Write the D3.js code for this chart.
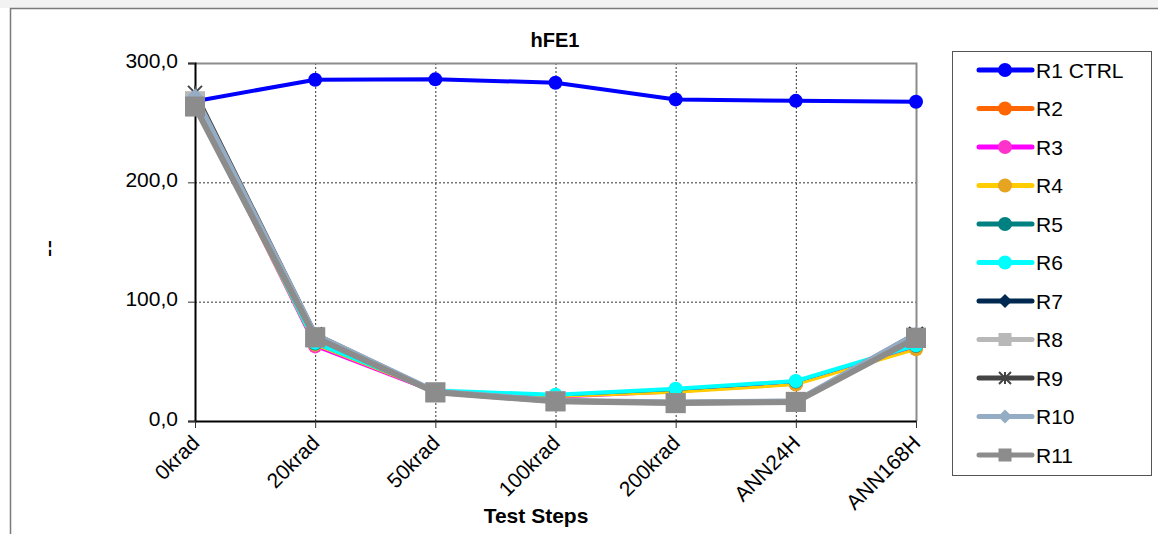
<!DOCTYPE html>
<html>
<head>
<meta charset="utf-8">
<script src="https://cdn.jsdelivr.net/npm/d3@7"></script>
<style>
  html, body { margin: 0; padding: 0; background: #fff; }
  svg { display: block; font-family: "Liberation Sans", Arial, sans-serif; }
</style>
</head>
<body>
<svg id="chart" width="1158" height="534"></svg>
<script>
// Test steps along the x axis
const categories = ["0krad", "20krad", "50krad", "100krad", "200krad", "ANN24H", "ANN168H"];
const yTicks = [0, 100, 200, 300];

// hFE1 per device at each test step
const seriesNames = ["R1 CTRL", "R2", "R3", "R4", "R5", "R6", "R7", "R8", "R9", "R10", "R11"];
const R1  = [268.0, 286.0, 286.3, 283.5, 269.5, 268.3, 267.5];
const R2  = [266.0, 64.5, 24.5, 20.5, 25.0, 31.5, 61.5];
const R3  = [266.5, 62.5, 24.0, 20.0, 24.5, 31.0, 62.0];
const R4  = [265.0, 64.0, 24.5, 20.5, 24.0, 30.5, 60.0];
const R5  = [267.0, 65.0, 25.0, 21.5, 26.5, 33.0, 63.0];
const R6  = [267.5, 65.5, 25.5, 22.0, 27.0, 33.5, 63.5];
const R7  = [270.0, 71.0, 24.0, 16.5, 15.0, 16.0, 71.0];
const R8  = [268.0, 70.5, 24.0, 16.5, 15.0, 16.0, 70.0];
const R9  = [275.0, 72.5, 24.5, 17.0, 15.5, 16.5, 73.0];
const R10 = [272.0, 72.0, 24.5, 17.0, 15.5, 16.5, 72.5];
const R11 = [263.5, 70.0, 24.0, 16.5, 15.0, 16.0, 69.5];
const seriesValues = [R1, R2, R3, R4, R5, R6, R7, R8, R9, R10, R11];

const lineColors   = ["#0000ff", "#ff6600", "#ff00ff", "#ffcc00", "#008080", "#00ffff", "#002850", "#b8b8b8", "#444444", "#94acc4", "#8c8c8c"];
const markerColors = ["#0000ff", "#ff6600", "#ff33cc", "#e6a420", "#008080", "#00ffff", "#002850", "#b8b8b8", "#444444", "#94acc4", "#8c8c8c"];
const markerShapes = ["circle", "circle", "circle", "circle", "circle", "circle", "diamond", "square", "star", "diamond", "square"];
const lineWidths   = [4, 3, 3, 3, 3, 4, 4, 5, 5, 6, 6];

const svg = d3.select("#chart");
const W = 1158, H = 534;
const FONT = "Liberation Sans, Arial, sans-serif";

// outer frame
svg.append("rect").attr("x", 0).attr("y", 0).attr("width", W).attr("height", 8).attr("fill", "#f2f2f2");
svg.append("rect").attr("x", 10.5).attr("y", 8.5).attr("width", W).attr("height", H)
  .attr("fill", "#fff").attr("stroke", "#7a7a7a").attr("stroke-width", 1.5);

const plot = { left: 195, right: 916, top: 63, bottom: 421 };

const x = d3.scalePoint().domain(categories).range([plot.left, plot.right]);
const y = d3.scaleLinear().domain([0, 300]).range([plot.bottom, plot.top]);

// grid lines
const grid = svg.append("g");
grid.selectAll("line.h").data(yTicks.filter(v => v > 0 && v < 300)).join("line")
  .attr("x1", plot.left).attr("x2", plot.right)
  .attr("y1", d => y(d) + 0.5).attr("y2", d => y(d) + 0.5)
  .attr("stroke", "#333").attr("stroke-width", 1).attr("stroke-dasharray", "2,2");
grid.selectAll("line.v").data(categories.slice(1, -1)).join("line")
  .attr("x1", d => x(d) + 0.5).attr("x2", d => x(d) + 0.5)
  .attr("y1", plot.top).attr("y2", plot.bottom)
  .attr("stroke", "#333").attr("stroke-width", 1).attr("stroke-dasharray", "2,2");

// plot area top/right border
svg.append("path")
  .attr("d", `M${plot.left},${plot.top + 0.5}H${plot.right + 0.5}V${plot.bottom}`)
  .attr("fill", "none").attr("stroke", "#8c8c8c").attr("stroke-width", 2);

// y axis
const yAxis = svg.append("g").attr("transform", `translate(${plot.left},0)`)
  .call(d3.axisLeft(y).tickValues(yTicks).tickSize(7).tickPadding(10)
    .tickFormat(d => d3.format(".1f")(d).replace(".", ",")));
yAxis.select(".domain").attr("stroke", "#000").attr("stroke-width", 2);
yAxis.selectAll(".tick line").attr("stroke", "#333");
yAxis.selectAll(".tick text").attr("font-size", 21).attr("fill", "#000")
  .attr("font-family", FONT).attr("dy", "0.2em");

// x axis
const xAxis = svg.append("g").attr("transform", `translate(0,${plot.bottom})`)
  .call(d3.axisBottom(x).tickSize(7).tickSizeOuter(0));
xAxis.select(".domain").attr("stroke", "#000").attr("stroke-width", 2);
xAxis.selectAll(".tick line").attr("stroke", "#333");
xAxis.selectAll(".tick text")
  .attr("font-size", 21).attr("fill", "#000")
  .attr("font-family", FONT)
  .attr("text-anchor", "end")
  .attr("transform", "translate(0,18) rotate(-45)")
  .attr("dx", 0).attr("dy", "0.35em").attr("y", 0).attr("x", 0);

// titles
svg.append("text").attr("x", 555).attr("y", 47).attr("text-anchor", "middle")
  .attr("font-size", 20).attr("font-weight", "bold").text("hFE1");
svg.append("text").attr("x", 536).attr("y", 523).attr("text-anchor", "middle")
  .attr("font-size", 21).attr("font-weight", "bold").text("Test Steps");
svg.append("text").attr("x", 50).attr("y", 253).attr("text-anchor", "middle")
  .attr("font-size", 16).attr("font-weight", "bold").text("¦");

// marker drawing
function drawMarker(g, shape, color, size) {
  if (shape === "circle") {
    g.append("circle").attr("r", size).attr("fill", color);
  } else if (shape === "square") {
    g.append("rect").attr("x", -size).attr("y", -size).attr("width", size * 2).attr("height", size * 2).attr("fill", color);
  } else if (shape === "diamond") {
    g.append("path").attr("d", `M0,${-size}L${size},0L0,${size}L${-size},0Z`).attr("fill", color);
  } else if (shape === "star") {
    const s = size;
    g.append("path").attr("d", `M${-s},${-s}L${s},${s}M${-s},${s}L${s},${-s}M0,${-s}V${s}`)
      .attr("stroke", color).attr("stroke-width", 2).attr("fill", "none");
  }
}
const plotMarkerSize = { circle: 7, square: 10, diamond: 8, star: 7 };
const legendMarkerSize = { circle: 7, square: 6.5, diamond: 7, star: 6 };

const line = d3.line().x((d, i) => x(categories[i])).y(d => y(d));

// series lines and markers (R1 first, R11 on top)
seriesValues.forEach((vals, si) => {
  const g = svg.append("g");
  g.append("path").datum(vals).attr("d", line)
    .attr("fill", "none").attr("stroke", lineColors[si])
    .attr("stroke-width", lineWidths[si]).attr("stroke-linejoin", "round");
  vals.forEach((v, i) => {
    const m = g.append("g").attr("transform", `translate(${x(categories[i])},${y(v)})`);
    drawMarker(m, markerShapes[si], markerColors[si], plotMarkerSize[markerShapes[si]]);
  });
});

// legend
const lg = svg.append("g");
lg.append("rect").attr("x", 952.5).attr("y", 51.5).attr("width", 199).attr("height", 424)
  .attr("fill", "#fff").attr("stroke", "#555").attr("stroke-width", 1);
seriesNames.forEach((name, si) => {
  const yy = 70 + si * 38.5;
  const e = lg.append("g").attr("transform", `translate(0,${yy})`);
  e.append("line").attr("x1", 979).attr("x2", 1032).attr("y1", 0).attr("y2", 0)
    .attr("stroke", lineColors[si]).attr("stroke-width", 5).attr("stroke-linecap", "round");
  const m = e.append("g").attr("transform", "translate(1005,0)");
  drawMarker(m, markerShapes[si], markerColors[si], legendMarkerSize[markerShapes[si]]);
  e.append("text").attr("x", 1036).attr("y", 7.5).attr("font-size", 21).attr("fill", "#000").text(name);
});
</script>
</body>
</html>
